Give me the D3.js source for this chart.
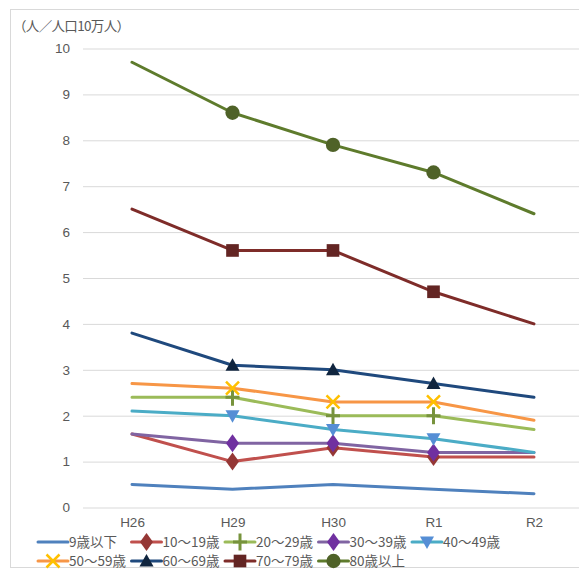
<!DOCTYPE html>
<html><head><meta charset="utf-8">
<script src="https://cdn.jsdelivr.net/npm/d3@7"></script>
<style>
html,body{margin:0;padding:0;background:#fff;}
svg{display:block;font-family:"Noto Sans CJK JP","Noto Sans",sans-serif;}
</style></head>
<body><svg id="chart" width="579" height="570"></svg>
<script>
// 年次
const years = ["H26", "H29", "H30", "R1", "R2"];
// 年齢階級（凡例表示順）
const ageGroups = ["9歳以下", "10～19歳", "20～29歳", "30～39歳", "40～49歳", "50～59歳", "60～69歳", "70～79歳", "80歳以上"];
// 人口10万人あたりの人数
const v9 = [0.5, 0.4, 0.5, 0.4, 0.3];
const v10 = [1.6, 1.0, 1.3, 1.1, 1.1];
const v20 = [2.4, 2.4, 2.0, 2.0, 1.7];
const v30 = [1.6, 1.4, 1.4, 1.2, 1.2];
const v40 = [2.1, 2.0, 1.7, 1.5, 1.2];
const v50 = [2.7, 2.6, 2.3, 2.3, 1.9];
const v60 = [3.8, 3.1, 3.0, 2.7, 2.4];
const v70 = [6.5, 5.6, 5.6, 4.7, 4.0];
const v80 = [9.7, 8.6, 7.9, 7.3, 6.4];
const yTicks = [0, 1, 2, 3, 4, 5, 6, 7, 8, 9, 10];

const seriesValues = [v9, v10, v20, v30, v40, v50, v60, v70, v80];
const styles = [
  {line: "#4F81BD", marker: null,       mcolor: null},
  {line: "#C0504D", marker: "diamond",  mcolor: "#953735"},
  {line: "#9BBB59", marker: "plus",     mcolor: "#77933C"},
  {line: "#8064A2", marker: "diamond",  mcolor: "#7030A0"},
  {line: "#4BACC6", marker: "triDown",  mcolor: "#558ED5"},
  {line: "#F79646", marker: "cross",    mcolor: "#FFC000"},
  {line: "#1F497D", marker: "triUp",    mcolor: "#10253F"},
  {line: "#7E2C29", marker: "square",   mcolor: "#632523"},
  {line: "#5E7B2C", marker: "circle",   mcolor: "#4F6228"}
];
const series = ageGroups.map((name, i) => ({name, values: seriesValues[i], ...styles[i]}));

const svg = d3.select("#chart");
const textColor = "#595959";
const fontSize = 13.5;

// 外枠
svg.append("rect").attr("x", 10.5).attr("y", 9.5).attr("width", 620).attr("height", 558)
  .attr("fill", "none").attr("stroke", "#d9d9d9").attr("stroke-width", 1);

const x = d3.scalePoint().domain(years).range([132, 534]);
const y = d3.scaleLinear().domain([0, 10]).range([507.5, 48.5]);

// 目盛線
const yAxis = d3.axisLeft(y).tickValues(yTicks).tickSize(-(600 - 83)).tickPadding(13).tickFormat(d3.format("d"));
const gy = svg.append("g").attr("transform", "translate(83,0)").call(yAxis);
gy.select(".domain").remove();
gy.selectAll(".tick line").attr("stroke", "#d9d9d9").attr("stroke-width", 1);
gy.selectAll(".tick text").attr("fill", textColor).attr("font-size", fontSize);

// 横軸ラベル
const xAxis = d3.axisBottom(x).tickSize(0).tickPadding(10);
const gx = svg.append("g").attr("transform", "translate(0,507.5)").call(xAxis);
gx.select(".domain").remove();
gx.selectAll(".tick text").attr("fill", textColor).attr("font-size", fontSize);

// 単位
svg.append("text").attr("x", 13).attr("y", 31).attr("fill", textColor).attr("font-size", 13.5)
  .attr("textLength", 117).attr("lengthAdjust", "spacing")
  .text("（人／人口10万人）");

function drawMarker(g, type, color, cx, cy) {
  const t = `translate(${cx},${cy})`;
  if (type === "diamond") {
    g.append("path").attr("d", "M0,-9L6.5,0L0,9L-6.5,0Z").attr("fill", color).attr("transform", t);
  } else if (type === "square") {
    g.append("path").attr("d", d3.symbol(d3.symbolSquare, 160)()).attr("fill", color).attr("transform", t);
  } else if (type === "circle") {
    g.append("path").attr("d", d3.symbol(d3.symbolCircle, 160)()).attr("fill", color).attr("transform", t);
  } else if (type === "triUp") {
    g.append("path").attr("d", "M0,-7L7,5.5L-7,5.5Z").attr("fill", color).attr("transform", t);
  } else if (type === "triDown") {
    g.append("path").attr("d", "M-7,-5.5L7,-5.5L0,7Z").attr("fill", color).attr("transform", t);
  } else if (type === "plus") {
    g.append("path").attr("d", "M0,-8.5V8.5M-7,0H7").attr("stroke", color).attr("stroke-width", 3)
      .attr("fill", "none").attr("transform", t);
  } else if (type === "cross") {
    g.append("path").attr("d", "M-6.5,-6.5L6.5,6.5M6.5,-6.5L-6.5,6.5").attr("stroke", color).attr("stroke-width", 2.5)
      .attr("fill", "none").attr("transform", t);
  }
}

// 折れ線
const line = d3.line().x((d, i) => x(years[i])).y(d => y(d));
const plot = svg.append("g");
series.forEach(s => {
  plot.append("path").datum(s.values).attr("d", line).attr("fill", "none")
    .attr("stroke", s.line).attr("stroke-width", 3).attr("stroke-linejoin", "round").attr("stroke-linecap", "round");
});
// マーカー（中間年のみ）
series.forEach(s => {
  if (!s.marker) return;
  s.values.forEach((v, i) => {
    if (i === 0 || i === years.length - 1) return;
    drawMarker(plot, s.marker, s.mcolor, x(years[i]), y(v));
  });
});

// 凡例
const legendCols = [38, 131.5, 225, 318.5, 412];
const legendRows = [542, 561];
const legend = svg.append("g");
series.forEach((s, i) => {
  const lx = legendCols[i % 5];
  const ly = legendRows[Math.floor(i / 5)];
  legend.append("line").attr("x1", lx).attr("x2", lx + 30).attr("y1", ly).attr("y2", ly)
    .attr("stroke", s.line).attr("stroke-width", 3).attr("stroke-linecap", "round");
  if (s.marker) drawMarker(legend, s.marker, s.mcolor, lx + 15, ly);
  legend.append("text").attr("x", lx + 31).attr("y", ly).attr("dy", "0.35em")
    .attr("fill", textColor).attr("font-size", fontSize).text(s.name);
});
</script>
</body></html>
